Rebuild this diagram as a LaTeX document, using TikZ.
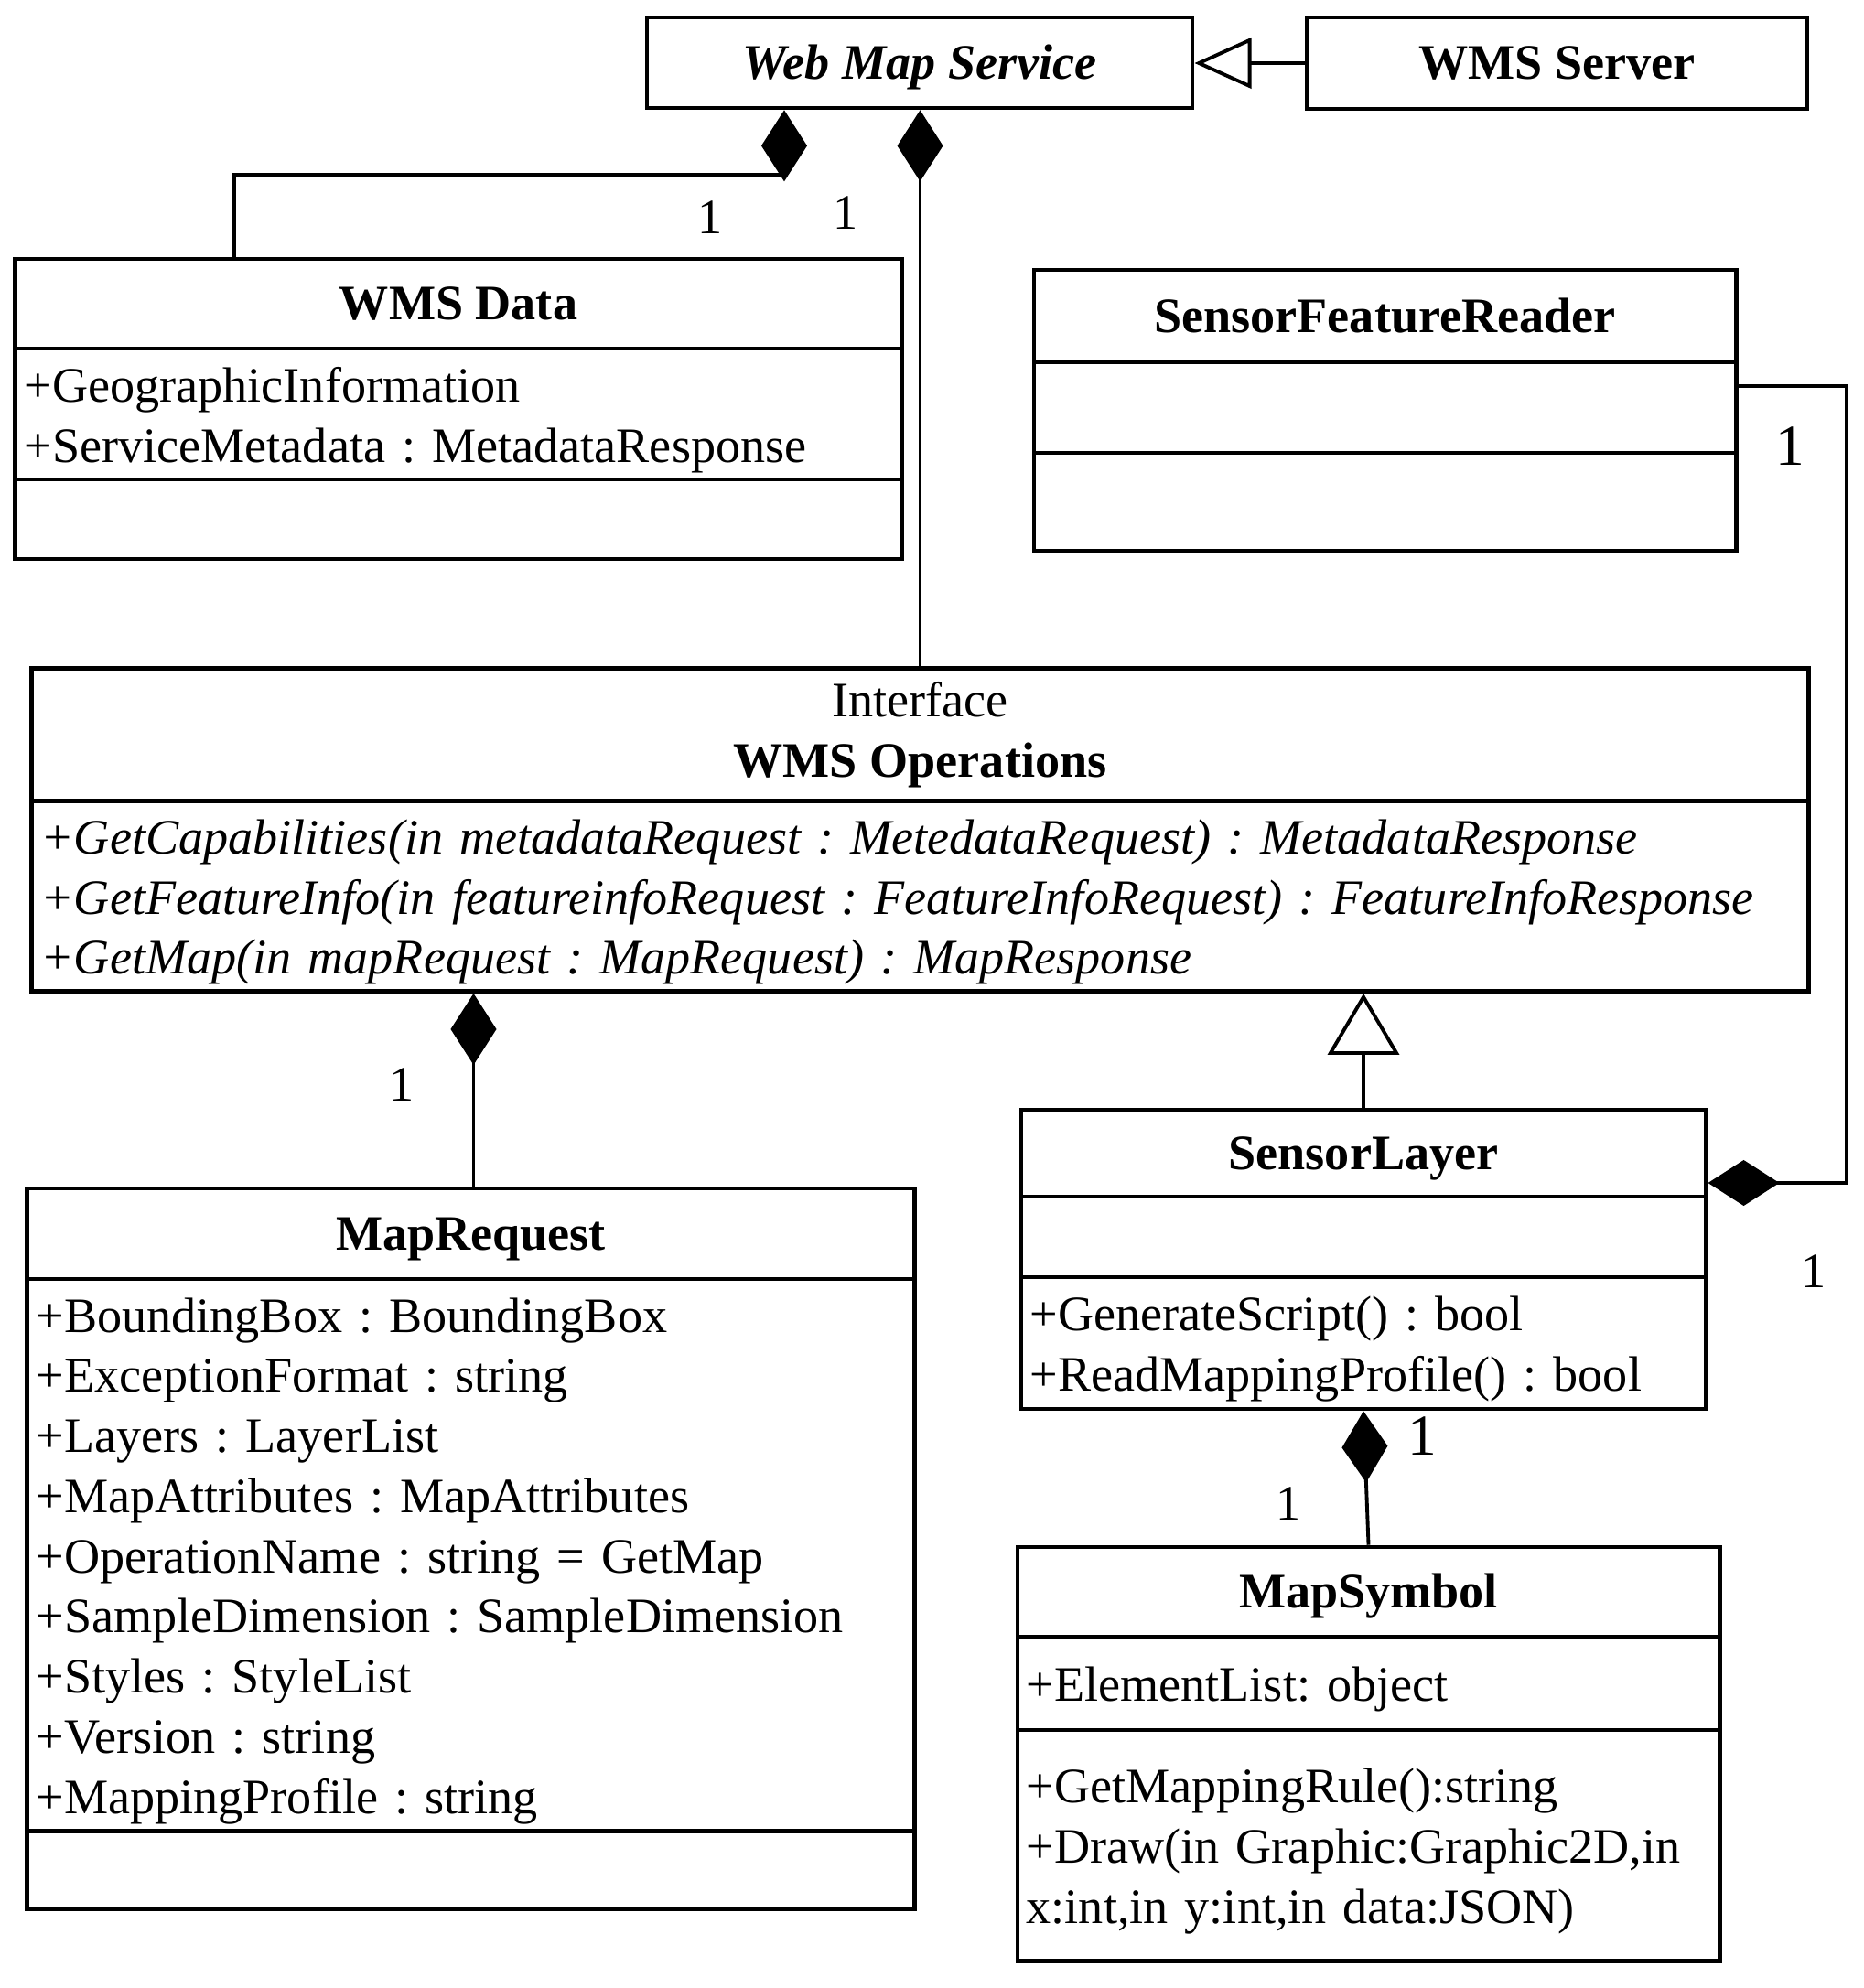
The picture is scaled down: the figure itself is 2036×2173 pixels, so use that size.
\documentclass[tikz,border=0pt]{standalone}
\usepackage{fontspec}
\setmainfont{Liberation Serif}
\usetikzlibrary{arrows.meta, positioning}

\begin{document}
\frenchspacing
\fontsize{15.4}{18.7}\selectfont
\begin{tikzpicture}[
    x=0.01cm, y=-0.01cm,
    node distance=-1.3pt,
    head/.style={draw, line width=1.3pt, inner sep=0pt, align=center, font=\bfseries, text height=0.66em, text depth=0pt},
    part/.style={draw, line width=1.3pt, inner xsep=0.1cm, inner ysep=0pt, align=left, execute at begin node={\rule{0pt}{14.4pt}}},
    compo/.style={line width=1.1pt, -{Diamond[length=0.78cm, width=0.5cm]}},
    gen/.style={line width=1.1pt, -{Triangle[fill=white, #1]}},
    mult/.style={inner sep=0pt}
]
    \useasboundingbox (0,0) rectangle (2036,2173);

    \node[head, font=\bfseries\itshape, minimum width=5.96cm, minimum height=0.99cm] (wms) at (1005,68.5) {Web Map Service};
    \node[head, minimum width=5.47cm, minimum height=1cm] (server) at (1701.5,69) {WMS Server};

    \node[head, minimum width=9.68cm, minimum height=0.98cm] (data) at (501,332) {WMS Data};
    \node[part, text width=9.48cm, minimum height=1.43cm, below=of data] (data-attr) {+GeographicInformation\\+ServiceMetadata : MetadataResponse};
    \node[part, text width=9.48cm, minimum height=0.87cm, below=of data-attr] (data-op) {};

    \node[head, minimum width=7.67cm, minimum height=1.01cm] (reader) at (1513.5,345.5) {SensorFeatureReader};
    \node[part, text width=7.47cm, minimum height=0.99cm, below=of reader] (reader-attr) {};
    \node[part, text width=7.47cm, minimum height=1.07cm, below=of reader-attr] (reader-op) {};

    \node[head, font=\mdseries, text height={}, text depth={}, minimum width=19.41cm, minimum height=1.45cm] (ops) at (1005.5,803) {Interface\\\textbf{WMS Operations}};
    \node[part, font=\itshape, text width=19.21cm, minimum height=2.08cm, below=of ops] (ops-op) {+GetCapabilities(in metadataRequest : MetedataRequest) : MetadataResponse\\+GetFeatureInfo(in featureinfoRequest : FeatureInfoRequest) : FeatureInfoResponse\\+GetMap(in mapRequest : MapRequest) : MapResponse};

    \node[head, minimum width=9.69cm, minimum height=0.99cm] (request) at (514.5,1348.5) {MapRequest};
    \node[part, text width=9.49cm, minimum height=6.03cm, below=of request] (request-attr) {+BoundingBox : BoundingBox\\+ExceptionFormat : string\\+Layers : LayerList\\+MapAttributes : MapAttributes\\+OperationName : string = GetMap\\+SampleDimension : SampleDimension\\+Styles : StyleList\\+Version : string\\+MappingProfile : string};
    \node[part, text width=9.49cm, minimum height=0.85cm, below=of request-attr] (request-op) {};

    \node[head, minimum width=7.48cm, minimum height=0.95cm] (layer) at (1490,1260.5) {SensorLayer};
    \node[part, text width=7.28cm, minimum height=0.88cm, below=of layer] (layer-attr) {};
    \node[part, text width=7.28cm, minimum height=1.44cm, below=of layer-attr] (layer-op) {+GenerateScript() : bool\\+ReadMappingProfile() : bool};

    \node[head, minimum width=7.67cm, minimum height=0.98cm] (symbol) at (1495.5,1740) {MapSymbol};
    \node[part, text width=7.47cm, minimum height=1.02cm, below=of symbol] (symbol-attr) {+ElementList: object};
    \node[part, text width=7.47cm, minimum height=2.52cm, below=of symbol-attr] (symbol-op) {+GetMappingRule():string\\+Draw(in Graphic:Graphic2D,in\\x:int,in y:int,in data:JSON)};

    \coordinate (data-bend) at (857,191);
    \coordinate (reader-bend) at (2018,1293);

    \draw[gen={length=0.62cm, width=0.55cm}] (server.west) -- (server.west -| wms.east);
    \draw[compo] ([xshift=2.41cm]data.north west) |- (data-bend) -- (data-bend |- wms.south);
    \draw[compo] (ops.north) -- (ops.north |- wms.south);
    \draw[compo] ([xshift=0.03cm]request.north) -- ([xshift=0.03cm]request.north |- ops-op.south);
    \draw[gen={length=0.67cm, width=0.78cm}] (layer.north) -- (layer.north |- ops-op.south);
    \draw[compo] ([yshift=-0.24cm]reader.south east) -| (reader-bend) -- (reader-bend -| layer.east);
    \draw[compo] (symbol.north) -- (layer-op.south);

    \node[mult] (m-data) at (776,238) {1};
    \node[mult] (m-ops) at (924,233) {1};
    \node[mult] (m-request) at (439,1186) {1};
    \node[mult, font=\fontsize{18}{20}\selectfont] (m-reader) at (1956,488) {1};
    \node[mult] (m-layer) at (1982,1390) {1};
    \node[mult, font=\fontsize{18}{20}\selectfont] (m-symbol-up) at (1554,1570) {1};
    \node[mult] (m-symbol) at (1408,1644) {1};
\end{tikzpicture}
\end{document}
